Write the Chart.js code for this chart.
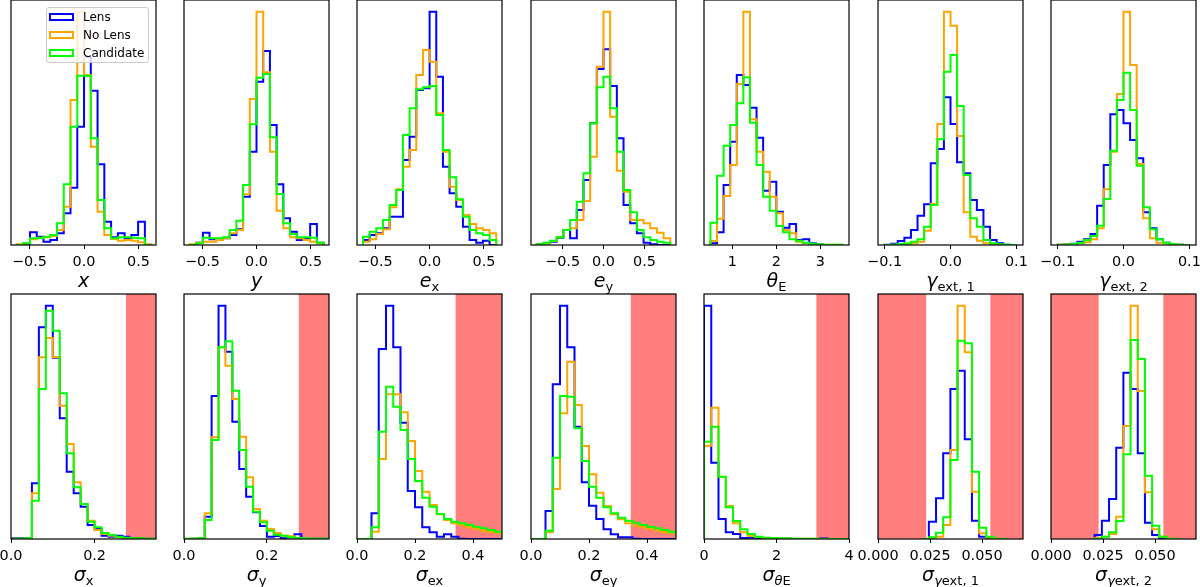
<!DOCTYPE html>
<html>
<head>
<meta charset="utf-8">
<script src="https://cdn.jsdelivr.net/npm/chart.js"></script>
<style>
  body { margin: 0; background: #fff; width: 1200px; height: 587px; position: relative; overflow: hidden; font-family: "DejaVu Sans", sans-serif; }
  .panel { position: absolute; }
  #legend { position: absolute; left: 46px; top: 7px; width: 101px; height: 54px; border: 1px solid #cccccc; border-radius: 3px; background: rgba(255,255,255,0.8); z-index: 5; }
  #legend .row { height: 18px; display: flex; align-items: center; font-size: 12px; color: #000; }
  #legend .patch { width: 21px; height: 4px; margin: 0 9px 0 2px; background: #fff; border-width: 2px; border-style: solid; }
</style>
</head>
<body>
<div id="figure"></div>
<div id="legend"></div>
<script>
// ---- histogram counts (relative heights) for Lens / No Lens / Candidate ----

// x
const xBins = [-0.62, 0.062];
const xLens = [0, 4, 38, 25, 10, 15, 35, 95, 172, 355, 565, 463, 242, 70, 23, 35, 20, 30, 70, 0];
const xNoLens = [2, 5, 17, 22, 23, 27, 45, 115, 435, 700, 510, 295, 100, 30, 18, 13, 15, 13, 8, 2];
const xCand = [0, 5, 20, 20, 25, 30, 65, 182, 355, 508, 508, 320, 135, 50, 20, 23, 23, 22, 20, 0];

// y
const yBins = [-0.62, 0.062];
const yLens = [0, 7, 37, 17, 17, 20, 30, 47, 145, 280, 490, 582, 360, 182, 80, 40, 15, 20, 63, 7];
const yNoLens = [2, 7, 10, 10, 15, 20, 35, 45, 152, 438, 700, 518, 280, 103, 50, 23, 20, 15, 10, 5];
const yCand = [0, 5, 22, 20, 20, 23, 45, 73, 180, 362, 502, 513, 323, 153, 65, 33, 23, 23, 22, 7];

// e_x
const exBins = [-0.613, 0.0613];
const exLens = [15, 30, 35, 50, 85, 85, 255, 325, 465, 470, 700, 505, 235, 155, 115, 55, 15, 7, 13, 0];
const exNoLens = [10, 17, 33, 47, 113, 167, 235, 285, 510, 585, 550, 395, 280, 175, 135, 90, 63, 50, 45, 35];
const exCand = [25, 40, 50, 75, 120, 165, 330, 410, 467, 473, 477, 390, 285, 203, 137, 85, 45, 35, 30, 15];

// e_y
const eyBins = [-0.816, 0.0816];
const eyLens = [2, 5, 10, 22, 45, 20, 105, 195, 365, 528, 587, 477, 320, 120, 65, 35, 7, 2, 0, 0];
const eyNoLens = [2, 5, 12, 23, 45, 50, 75, 132, 265, 535, 700, 385, 223, 160, 75, 75, 65, 50, 37, 20];
const eyCand = [2, 7, 13, 23, 45, 75, 130, 215, 365, 473, 505, 410, 280, 165, 98, 45, 23, 15, 10, 7];

// theta_E
const thBins = [0.5, 0.15];
const thLens = [5, 38, 180, 310, 510, 480, 412, 322, 163, 190, 100, 52, 63, 15, 17, 5, 2, 0, 0, 0];
const thNoLens = [12, 79, 147, 240, 483, 700, 377, 280, 220, 145, 95, 45, 35, 10, 5, 3, 1, 1, 1, 1];
const thCand = [67, 208, 298, 360, 425, 503, 367, 240, 145, 103, 57, 38, 17, 13, 7, 4, 2, 1, 1, 1];

// gamma_ext,1
const g1Bins = [-0.1, 0.01];
const g1Lens = [1, 4, 12, 22, 45, 88, 122, 245, 288, 443, 363, 248, 215, 135, 105, 55, 15, 5, 1, 0];
const g1NoLens = [0, 1, 2, 3, 5, 10, 43, 123, 363, 700, 658, 327, 98, 25, 13, 5, 2, 1, 0, 0];
const g1Cand = [0, 1, 3, 5, 10, 17, 55, 120, 317, 520, 570, 417, 210, 80, 55, 15, 5, 2, 1, 0];

// gamma_ext,2
const g2Bins = [-0.1, 0.01];
const g2Lens = [1, 2, 4, 10, 17, 33, 118, 240, 392, 405, 365, 315, 260, 98, 50, 17, 7, 2, 1, 0];
const g2NoLens = [1, 2, 3, 5, 8, 17, 50, 167, 280, 453, 700, 540, 243, 80, 20, 7, 5, 2, 1, 0];
const g2Cand = [0, 1, 3, 7, 15, 27, 58, 138, 283, 435, 517, 405, 238, 113, 47, 17, 7, 3, 1, 0];

// sigma_x
const sxBins = [0, 0.01667];
const sxLens = [2, 2, 2, 167, 635, 700, 544, 362, 202, 137, 97, 42, 30, 10, 7, 10, 7, 3, 2, 1, 1];
const sxNoLens = [1, 1, 1, 137, 545, 603, 545, 400, 285, 170, 105, 55, 27, 15, 10, 5, 3, 2, 1, 1, 1];
const sxCand = [1, 1, 2, 115, 450, 685, 625, 437, 257, 155, 105, 52, 35, 18, 12, 7, 4, 2, 2, 1, 1];

// sigma_y
const syBins = [0, 0.01667];
const syLens = [0, 1, 2, 67, 429, 700, 562, 352, 210, 127, 80, 39, 7, 9, 2, 5, 14, 2, 1, 1, 1];
const syNoLens = [1, 1, 2, 77, 305, 575, 520, 420, 307, 185, 90, 55, 30, 18, 10, 8, 3, 2, 1, 1, 1];
const syCand = [1, 1, 2, 57, 297, 575, 593, 445, 267, 157, 82, 50, 25, 13, 10, 5, 3, 2, 1, 1, 1];

// sigma_ex
const sexBins = [0, 0.025];
const sexLens = [0, 0, 77, 570, 700, 575, 349, 144, 95, 35, 20, 7, 14, 7, 1, 0, 0, 0, 0, 0];
const sexNoLens = [0, 0, 22, 240, 434, 434, 380, 294, 204, 142, 102, 74, 57, 47, 42, 35, 30, 24, 20, 19];
const sexCand = [0, 0, 35, 322, 457, 397, 327, 240, 174, 124, 97, 75, 60, 52, 47, 42, 37, 32, 27, 22];

// sigma_ey
const seyBins = [0, 0.025];
const seyLens = [0, 0, 84, 464, 700, 575, 337, 170, 100, 60, 29, 14, 5, 5, 1, 0, 0, 0, 0, 0];
const seyNoLens = [0, 0, 20, 150, 377, 532, 402, 279, 194, 139, 99, 74, 59, 47, 40, 35, 30, 25, 20, 17];
const seyCand = [0, 0, 25, 244, 429, 427, 332, 234, 157, 124, 95, 77, 64, 55, 49, 42, 37, 32, 27, 22];

// sigma_thetaE
const stBins = [0, 0.2];
const stLens = [700, 229, 60, 20, 15, 3, 4, 2, 1, 1, 0, 0, 0, 0, 0, 0, 2, 0, 0, 0];
const stNoLens = [280, 394, 187, 99, 47, 20, 10, 6, 4, 3, 2, 2, 1, 1, 1, 1, 1, 0, 0, 0];
const stCand = [292, 337, 187, 95, 54, 29, 15, 7, 4, 3, 2, 2, 1, 1, 1, 1, 0, 0, 0, 0];

// sigma_gamma_ext,1
const sg1Bins = [0.021, 0.00345];
const sg1Lens = [0, 52, 122, 257, 450, 505, 299, 55, 7, 2, 0, 0];
const sg1NoLens = [0, 2, 7, 42, 267, 700, 560, 142, 17, 4, 1, 0];
const sg1Cand = [0, 5, 19, 65, 237, 595, 587, 202, 34, 7, 1, 0];

// sigma_gamma_ext,2
const sg2Bins = [0.021, 0.00345];
const sg2Lens = [12, 55, 120, 274, 499, 450, 257, 49, 12, 2, 0, 0];
const sg2NoLens = [2, 7, 15, 67, 339, 700, 444, 140, 29, 7, 1, 0];
const sg2Cand = [1, 7, 20, 54, 254, 597, 540, 190, 40, 7, 1, 0];

// excluded ranges (red bands) on the uncertainty panels
const sxSpans = [[0.275, 0.4]];
const sySpans = [[0.277, 0.4]];
const sexSpans = [[0.34, 0.6]];
const seySpans = [[0.344, 0.6]];
const stSpans = [[3.1, 5]];
const sg1Spans = [[-0.01, 0.0232], [0.054, 0.08]];
const sg2Spans = [[-0.01, 0.0229], [0.054, 0.08]];

// tick values and labels
const posTicks = [-0.5, 0, 0.5];
const posLabels = ['−0.5', '0.0', '0.5'];
const thTicks = [1, 2, 3];
const thLabels = ['1', '2', '3'];
const gTicks = [-0.1, 0, 0.1];
const gLabels = ['−0.1', '0.0', '0.1'];
const sxyTicks = [0, 0.2];
const sxyLabels = ['0.0', '0.2'];
const seTicks = [0, 0.2, 0.4];
const seLabels = ['0.0', '0.2', '0.4'];
const stTicks = [0, 2, 4];
const stLabels = ['0', '2', '4'];
const sgTicks = [0, 0.025, 0.05];
const sgLabels = ['0.000', '0.025', '0.050'];

// ---- layout ----
const COL_LEFT = [11, 184, 357, 531, 704, 878, 1051];
const ROW_TOP = [0, 294];
const PANEL_W = 145;
const PANEL_H = 245;
const PAD_X = 30;
const PAD_TOP = 4;
const AXIS_H = 50;

const panels = [
    { row: 0, col: 0, bins: xBins, lens: xLens, noLens: xNoLens, cand: xCand, range: [-0.67, 0.66], ticks: posTicks, labels: posLabels, title: [['x', 'i']] },
    { row: 0, col: 1, bins: yBins, lens: yLens, noLens: yNoLens, cand: yCand, range: [-0.67, 0.67], ticks: posTicks, labels: posLabels, title: [['y', 'i']] },
    { row: 0, col: 2, bins: exBins, lens: exLens, noLens: exNoLens, cand: exCand, range: [-0.668, 0.666], ticks: posTicks, labels: posLabels, title: [['e', 'i'], ['x', 's']] },
    { row: 0, col: 3, bins: eyBins, lens: eyLens, noLens: eyNoLens, cand: eyCand, range: [-0.886, 0.886], ticks: posTicks, labels: posLabels, title: [['e', 'i'], ['y', 's']] },
    { row: 0, col: 4, bins: thBins, lens: thLens, noLens: thNoLens, cand: thCand, range: [0.354, 3.654], ticks: thTicks, labels: thLabels, title: [['θ', 'i'], ['E', 's']] },
    { row: 0, col: 5, bins: g1Bins, lens: g1Lens, noLens: g1NoLens, cand: g1Cand, range: [-0.11, 0.11], ticks: gTicks, labels: gLabels, title: [['γ', 'i'], ['ext, 1', 's']] },
    { row: 0, col: 6, bins: g2Bins, lens: g2Lens, noLens: g2NoLens, cand: g2Cand, range: [-0.11, 0.11], ticks: gTicks, labels: gLabels, title: [['γ', 'i'], ['ext, 2', 's']] },
    { row: 1, col: 0, bins: sxBins, lens: sxLens, noLens: sxNoLens, cand: sxCand, range: [0, 0.347], ticks: sxyTicks, labels: sxyLabels, spans: sxSpans, title: [['σ', 'i'], ['x', 's']] },
    { row: 1, col: 1, bins: syBins, lens: syLens, noLens: syNoLens, cand: syCand, range: [0, 0.35], ticks: sxyTicks, labels: sxyLabels, spans: sySpans, title: [['σ', 'i'], ['y', 's']] },
    { row: 1, col: 2, bins: sexBins, lens: sexLens, noLens: sexNoLens, cand: sexCand, range: [0, 0.5], ticks: seTicks, labels: seLabels, spans: sexSpans, title: [['σ', 'i'], ['ex', 's']] },
    { row: 1, col: 3, bins: seyBins, lens: seyLens, noLens: seyNoLens, cand: seyCand, range: [0, 0.5], ticks: seTicks, labels: seLabels, spans: seySpans, title: [['σ', 'i'], ['ey', 's']] },
    { row: 1, col: 4, bins: stBins, lens: stLens, noLens: stNoLens, cand: stCand, range: [0, 4], ticks: stTicks, labels: stLabels, spans: stSpans, title: [['σ', 'i'], ['θ', 'si'], ['E', 's']] },
    { row: 1, col: 5, bins: sg1Bins, lens: sg1Lens, noLens: sg1NoLens, cand: sg1Cand, range: [0, 0.0697], ticks: sgTicks, labels: sgLabels, spans: sg1Spans, title: [['σ', 'i'], ['γ', 'si'], ['ext, 1', 's']] },
    { row: 1, col: 6, bins: sg2Bins, lens: sg2Lens, noLens: sg2NoLens, cand: sg2Cand, range: [0, 0.0697], ticks: sgTicks, labels: sgLabels, spans: sg2Spans, title: [['σ', 'i'], ['γ', 'si'], ['ext, 2', 's']] }
];

Chart.defaults.font.family = '"DejaVu Sans", sans-serif';

/**
 * Builds the outline points of a step histogram
 * @param {Array} bins [first edge, bin width]
 * @param {Array} counts bin heights
 */
function stepPoints(bins, counts) {
    const pts = [{ x: bins[0], y: 0 }];
    counts.forEach((c, i) => pts.push({ x: bins[0] + i * bins[1], y: c }));
    pts.push({ x: bins[0] + counts.length * bins[1], y: 0 });
    return pts;
}

function series(label, bins, counts, color, order) {
    return {
        label: label,
        data: stepPoints(bins, counts),
        borderColor: color,
        backgroundColor: color,
        borderWidth: 2,
        stepped: true,
        pointRadius: 0,
        fill: false,
        order: order
    };
}

/**
 * Frame, red bands and the mathtext-like axis label of one panel
 */
function decorPlugin(p) {
    return {
        id: 'decor',
        beforeDraw(chart) {
            // white axes background, hides what overlaps from the row above
            const area = chart.chartArea;
            chart.ctx.save();
            chart.ctx.fillStyle = '#fff';
            chart.ctx.fillRect(area.left, area.top, area.right - area.left, area.bottom - area.top);
            chart.ctx.restore();
        },
        beforeDatasetsDraw(chart) {
            const area = chart.chartArea;
            const xs = chart.scales.x;
            const ctx = chart.ctx;
            ctx.save();
            ctx.fillStyle = '#ff7f7f';
            (p.spans || []).forEach(s => {
                const a = Math.max(xs.getPixelForValue(s[0]), area.left);
                const b = Math.min(xs.getPixelForValue(s[1]), area.right);
                ctx.fillRect(a, area.top, b - a, area.bottom - area.top);
            });
            ctx.restore();
        },
        afterDraw(chart) {
            const area = chart.chartArea;
            const ctx = chart.ctx;
            ctx.save();
            ctx.strokeStyle = '#000';
            ctx.lineWidth = 1.2;
            ctx.strokeRect(area.left, area.top, area.right - area.left, area.bottom - area.top);

            // axis label: main symbol italic, subscript smaller and lower
            const fontOf = part => {
                const italic = part[1].indexOf('i') >= 0 ? 'italic ' : '';
                const size = part[1].indexOf('s') >= 0 ? 13 : 19;
                return italic + size + 'px "DejaVu Sans"';
            };
            let width = 0;
            p.title.forEach(part => { ctx.font = fontOf(part); width += ctx.measureText(part[0]).width; });
            let x = (area.left + area.right) / 2 - width / 2;
            const y = area.bottom + 42;
            ctx.fillStyle = '#000';
            ctx.textBaseline = 'alphabetic';
            p.title.forEach(part => {
                ctx.font = fontOf(part);
                ctx.fillText(part[0], x, y + (part[1].indexOf('s') >= 0 ? 4 : 0));
                x += ctx.measureText(part[0]).width;
            });
            ctx.restore();
        }
    };
}

function drawPanel(p) {
    const wrap = document.createElement('div');
    wrap.className = 'panel';
    wrap.style.left = (COL_LEFT[p.col] - PAD_X) + 'px';
    wrap.style.top = (ROW_TOP[p.row] - PAD_TOP) + 'px';
    const canvas = document.createElement('canvas');
    canvas.width = PANEL_W + 2 * PAD_X;
    canvas.height = PAD_TOP + PANEL_H + AXIS_H;
    wrap.appendChild(canvas);
    document.getElementById('figure').appendChild(wrap);

    const yMax = Math.max(...p.lens, ...p.noLens, ...p.cand) * 1.05;

    return new Chart(canvas.getContext('2d'), {
        type: 'line',
        data: {
            datasets: [
                series('Lens', p.bins, p.lens, '#0000ff', 2),
                series('No Lens', p.bins, p.noLens, '#ffa500', 1),
                series('Candidate', p.bins, p.cand, '#00ff00', 0)
            ]
        },
        options: {
            responsive: false,
            animation: false,
            devicePixelRatio: 1,
            layout: { padding: { left: PAD_X, right: PAD_X, top: PAD_TOP, bottom: 0 } },
            plugins: { legend: { display: false }, tooltip: { enabled: false } },
            scales: {
                x: {
                    type: 'linear',
                    min: p.range[0],
                    max: p.range[1],
                    bounds: 'data',
                    afterBuildTicks: s => { s.ticks = p.ticks.map(v => ({ value: v })); },
                    afterFit: s => { s.height = AXIS_H; },
                    ticks: {
                        autoSkip: false,
                        maxRotation: 0,
                        padding: 5,
                        color: '#000',
                        font: { size: 14.4 },
                        callback: (v, i) => p.labels[i]
                    },
                    grid: { display: true, drawOnChartArea: false, drawTicks: true, tickLength: 4, color: '#000' },
                    border: { display: false }
                },
                y: { display: false, min: 0, max: yMax }
            }
        },
        plugins: [decorPlugin(p)]
    });
}

const charts = panels.map(drawPanel);

// legend of the first panel, built from its datasets
const legend = document.getElementById('legend');
charts[0].data.datasets.forEach(ds => {
    const row = document.createElement('div');
    row.className = 'row';
    const patch = document.createElement('span');
    patch.className = 'patch';
    patch.style.borderColor = ds.borderColor;
    const text = document.createElement('span');
    text.textContent = ds.label;
    row.appendChild(patch);
    row.appendChild(text);
    legend.appendChild(row);
});
</script>
</body>
</html>
